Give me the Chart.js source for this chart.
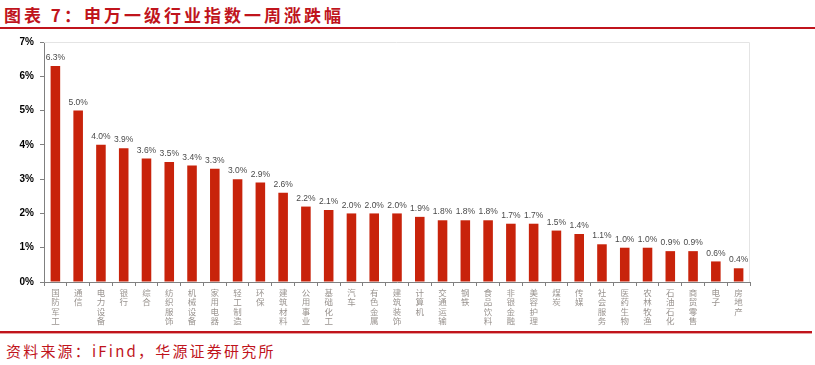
<!DOCTYPE html>
<html><head><meta charset="utf-8">
<script src="https://cdn.jsdelivr.net/npm/chart.js@4/dist/chart.umd.min.js"></script>
<style>
html,body{margin:0;padding:0;background:#fff;width:815px;height:365px;overflow:hidden;position:relative;font-family:"Noto Sans CJK SC","Noto Sans",sans-serif;}
#title{position:absolute;left:4px;top:2px;font-size:17px;font-weight:bold;color:#C0141C;letter-spacing:3px;white-space:nowrap;}
#topline{position:absolute;left:0;top:27px;width:815px;height:2px;background:#C0141C;}
#botline{position:absolute;left:0;top:331px;width:812px;height:2px;background:#C0141C;}
#botline2{position:absolute;left:0;top:333px;width:812px;height:1px;background:#E8A0A0;}
#source{position:absolute;left:6px;top:340px;font-size:15px;color:#C0141C;letter-spacing:2.2px;white-space:nowrap;}
#wrap{position:absolute;left:0;top:30px;width:815px;height:300px;}
</style></head>
<body>
<div id="title">图表 7：申万一级行业指数一周涨跌幅</div>
<div id="topline"></div>
<div id="wrap"><canvas id="c" width="815" height="300"></canvas></div>
<div id="botline"></div><div id="botline2"></div>
<div id="source">资料来源：iFind，华源证券研究所</div>
<script>
const categories = ["国防军工","通信","电力设备","银行","综合","纺织服饰","机械设备","家用电器","轻工制造","环保","建筑材料","公用事业","基础化工","汽车","有色金属","建筑装饰","计算机","交通运输","钢铁","食品饮料","非银金融","美容护理","煤炭","传媒","社会服务","医药生物","农林牧渔","石油石化","商贸零售","电子","房地产"];
const values = [6.3,5.0,4.0,3.9,3.6,3.5,3.4,3.3,3.0,2.9,2.6,2.2,2.1,2.0,2.0,2.0,1.9,1.8,1.8,1.8,1.7,1.7,1.5,1.4,1.1,1.0,1.0,0.9,0.9,0.6,0.4];
const yTicks = [0,1,2,3,4,5,6,7];

const labelPlugin = {
  id:'vals',
  afterDatasetsDraw(chart){
    const ctx = chart.ctx;
    const meta = chart.getDatasetMeta(0);
    ctx.save();
    ctx.font = '8.5px "Liberation Sans", Arial, sans-serif';
    ctx.fillStyle = '#4a4a4a';
    ctx.textAlign = 'center';
    ctx.textBaseline = 'bottom';
    meta.data.forEach((bar,i)=>{
      ctx.fillText(values[i].toFixed(1)+'%', bar.x, bar.y-4);
    });
    ctx.restore();
  },
  beforeDatasetsDraw(chart){
    const a = chart.chartArea, ctx = chart.ctx;
    ctx.save();
    ctx.strokeStyle = '#e4e4e4';
    ctx.lineWidth = 1;
    ctx.beginPath();
    ctx.moveTo(a.left, a.top+0.5);
    ctx.lineTo(a.right-0.5, a.top+0.5);
    ctx.lineTo(a.right-0.5, a.bottom);
    ctx.stroke();
    ctx.restore();
  }
};

new Chart(document.getElementById('c'), {
  type:'bar',
  data:{
    labels: categories.map(s=>s.split('')),
    datasets:[{data:values, backgroundColor:'#C8230B', barPercentage:0.42, categoryPercentage:1.0}]
  },
  options:{
    responsive:false, animation:false,
    layout:{padding:{top:8,right:65,left:0,bottom:0}},
    plugins:{legend:{display:false}, tooltip:{enabled:false}},
    scales:{
      x:{
        grid:{offset:true, drawOnChartArea:false, tickLength:4, color:'#808080'},
        border:{color:'#808080'},
        ticks:{color:'#9a9490', font:{size:8.5, family:'"Noto Sans CJK SC"', lineHeight:1.1}, maxRotation:0, minRotation:0, autoSkip:false, padding:2},
        afterFit(s){ s.height = 48; }
      },
      y:{
        min:0, max:7,
        afterBuildTicks(s){ s.ticks = yTicks.map(v=>({value:v})); },
        grid:{drawOnChartArea:false, tickLength:4, color:'#808080'},
        border:{color:'#808080'},
        ticks:{color:'#000', font:{size:10, weight:'bold', family:'"Liberation Sans", Arial, sans-serif'}, padding:6, callback:v=>v+'%'},
        afterFit(s){ s.width = 44; }
      }
    }
  },
  plugins:[labelPlugin]
});
</script>
</body></html>
